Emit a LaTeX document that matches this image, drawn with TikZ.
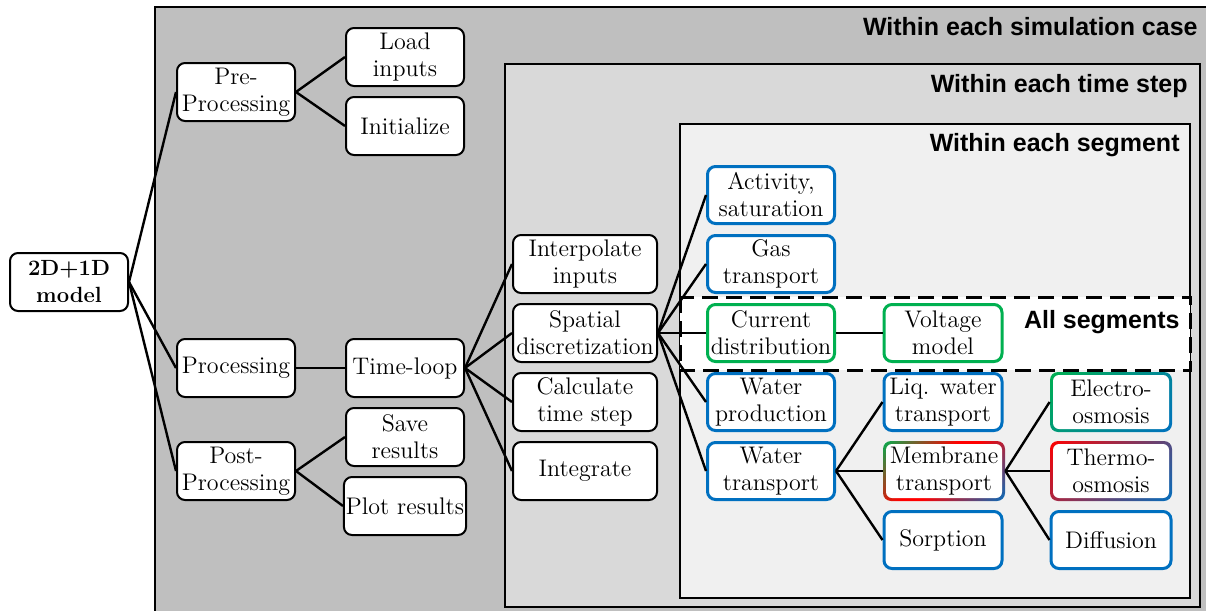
\documentclass[tikz,border=0pt]{standalone}
\usepackage{fontspec}
\newfontfamily\headfont{Liberation Sans}
\usetikzlibrary{shadings}

\definecolor{segblue}{RGB}{0,112,192}
\definecolor{seggreen}{RGB}{0,176,80}
\definecolor{segred}{RGB}{255,0,0}
\definecolor{caseGray}{RGB}{191,191,191}
\definecolor{stepGray}{RGB}{217,217,217}
\definecolor{segGray}{RGB}{240,240,240}

% border shadings, bottom (0bp) to top (100bp)
\pgfdeclareverticalshading{membshade}{100bp}{color(0bp)=(segblue); color(14bp)=(segblue); color(48bp)=(segred); color(56bp)=(segred); color(86bp)=(seggreen); color(100bp)=(seggreen)}
\pgfdeclareverticalshading{electroshade}{100bp}{color(0bp)=(segblue); color(14bp)=(segblue); color(86bp)=(seggreen); color(100bp)=(seggreen)}
\pgfdeclareverticalshading{thermoshade}{100bp}{color(0bp)=(segblue); color(14bp)=(segblue); color(86bp)=(segred); color(100bp)=(segred)}

\begin{document}
\begin{tikzpicture}[x=0.5pt,y=-0.5pt,
  box/.style={rounded corners=4pt, fill=white, align=center, inner sep=1pt, minimum height=29pt, font=\fontsize{12}{13.5}\selectfont},
  blk/.style={box, draw, line width=1pt, minimum width=59pt},
  wide/.style={blk, minimum width=72pt},
  bluebox/.style={box, draw=segblue, line width=1.5pt, minimum width=59pt, minimum height=28.5pt},
  greenbox/.style={bluebox, draw=seggreen},
  gradbox/.style={box, minimum width=61pt, minimum height=30pt, shade, shading=#1, shading angle=45, path picture={
    \fill[white, rounded corners=3pt] ([shift={(1.5pt,1.5pt)}]path picture bounding box.south west) rectangle ([shift={(-1.5pt,-1.5pt)}]path picture bounding box.north east);}},
  link/.style={line width=1.2pt},
  panel/.style={draw, line width=1.2pt},
  band/.style={draw, fill=white, line width=1.5pt, dash pattern=on 8pt off 4pt},
  head/.style={anchor=east, inner sep=0pt, font=\headfont\bfseries\fontsize{12.5}{14}\selectfont}]
\useasboundingbox (0,0) rectangle (1206,611);
% nested loops: case / time step / segment
\draw[panel, fill=caseGray] (155,7) rectangle (1212,616);
\draw[panel, fill=stepGray] (505,64) rectangle (1200,607);
\draw[panel, fill=segGray] (680,124) rectangle (1190,598);
\draw[band] (680,297) rectangle (1190,370);
\node[head] (caseT) at (1198,27) {Within each simulation case};
\node[head] (stepT) at (1188,86) {Within each time step};
\node[head] (segT) at (1180,145) {Within each segment};
\node[head] (allT) at (1180,322) {All segments};

\node[blk, font=\bfseries\fontsize{11}{13.5}\selectfont] (model) at (69,282) {2D+1D\\model};
\node[blk] (pre) at (236,92) {Pre-\\Processing};
\node[blk] (proc) at (236,368) {Processing};
\node[blk] (post) at (236,471) {Post-\\Processing};
\node[blk] (load) at (405,57) {Load\\inputs};
\node[blk] (init) at (405,126) {Initialize};
\node[blk] (loop) at (405,368) {Time-loop};
\node[blk] (save) at (405,437) {Save\\results};
\node[blk] (plot) at (405,506) {Plot results};

\node[wide] (interp) at (585,264) {Interpolate\\inputs};
\node[wide] (spatial) at (585,333) {Spatial\\discretization};
\node[wide] (dt) at (585,402) {Calculate\\time step};
\node[wide] (integ) at (585,471) {Integrate};

\node[bluebox, minimum width=63.5pt] (act) at (771,195) {Activity,\\saturation};
\node[bluebox, minimum width=63.5pt] (gas) at (771,264) {Gas\\transport};
\node[greenbox, minimum width=63.5pt] (current) at (771,333) {Current\\distribution};
\node[bluebox, minimum width=63.5pt] (wprod) at (771,402) {Water\\production};
\node[bluebox, minimum width=63.5pt] (wtrans) at (771,471) {Water\\transport};
\node[greenbox] (volt) at (943,333) {Voltage\\model};
\node[bluebox] (liq) at (943,402) {Liq. water\\transport};
\node[gradbox=membshade] (memb) at (944,471) {Membrane\\transport};
\node[bluebox] (sorp) at (943,540) {Sorption};
\node[gradbox=electroshade] (electro) at (1111,402) {Electro-\\osmosis};
\node[gradbox=thermoshade] (thermo) at (1111,471) {Thermo-\\osmosis};
\node[bluebox, minimum width=60pt] (diff) at (1111,540) {Diffusion};

\foreach \n in {pre,proc,post} \draw[link] (model.east) -- (\n.west);
\foreach \n in {load,init} \draw[link] (pre.east) -- (\n.west);
\draw[link] (proc.east) -- (loop.west);
\foreach \n in {save,plot} \draw[link] (post.east) -- (\n.west);
\foreach \n in {interp,spatial,dt,integ} \draw[link] (loop.east) -- (\n.west);
\foreach \n in {act,gas,current,wprod,wtrans} \draw[link] (spatial.east) -- (\n.west);
\draw[link] (current.east) -- (volt.west);
\foreach \n in {liq,memb,sorp} \draw[link] (wtrans.east) -- (\n.west);
\foreach \n in {electro,thermo,diff} \draw[link] (memb.east) -- (\n.west);
\end{tikzpicture}
\end{document}
